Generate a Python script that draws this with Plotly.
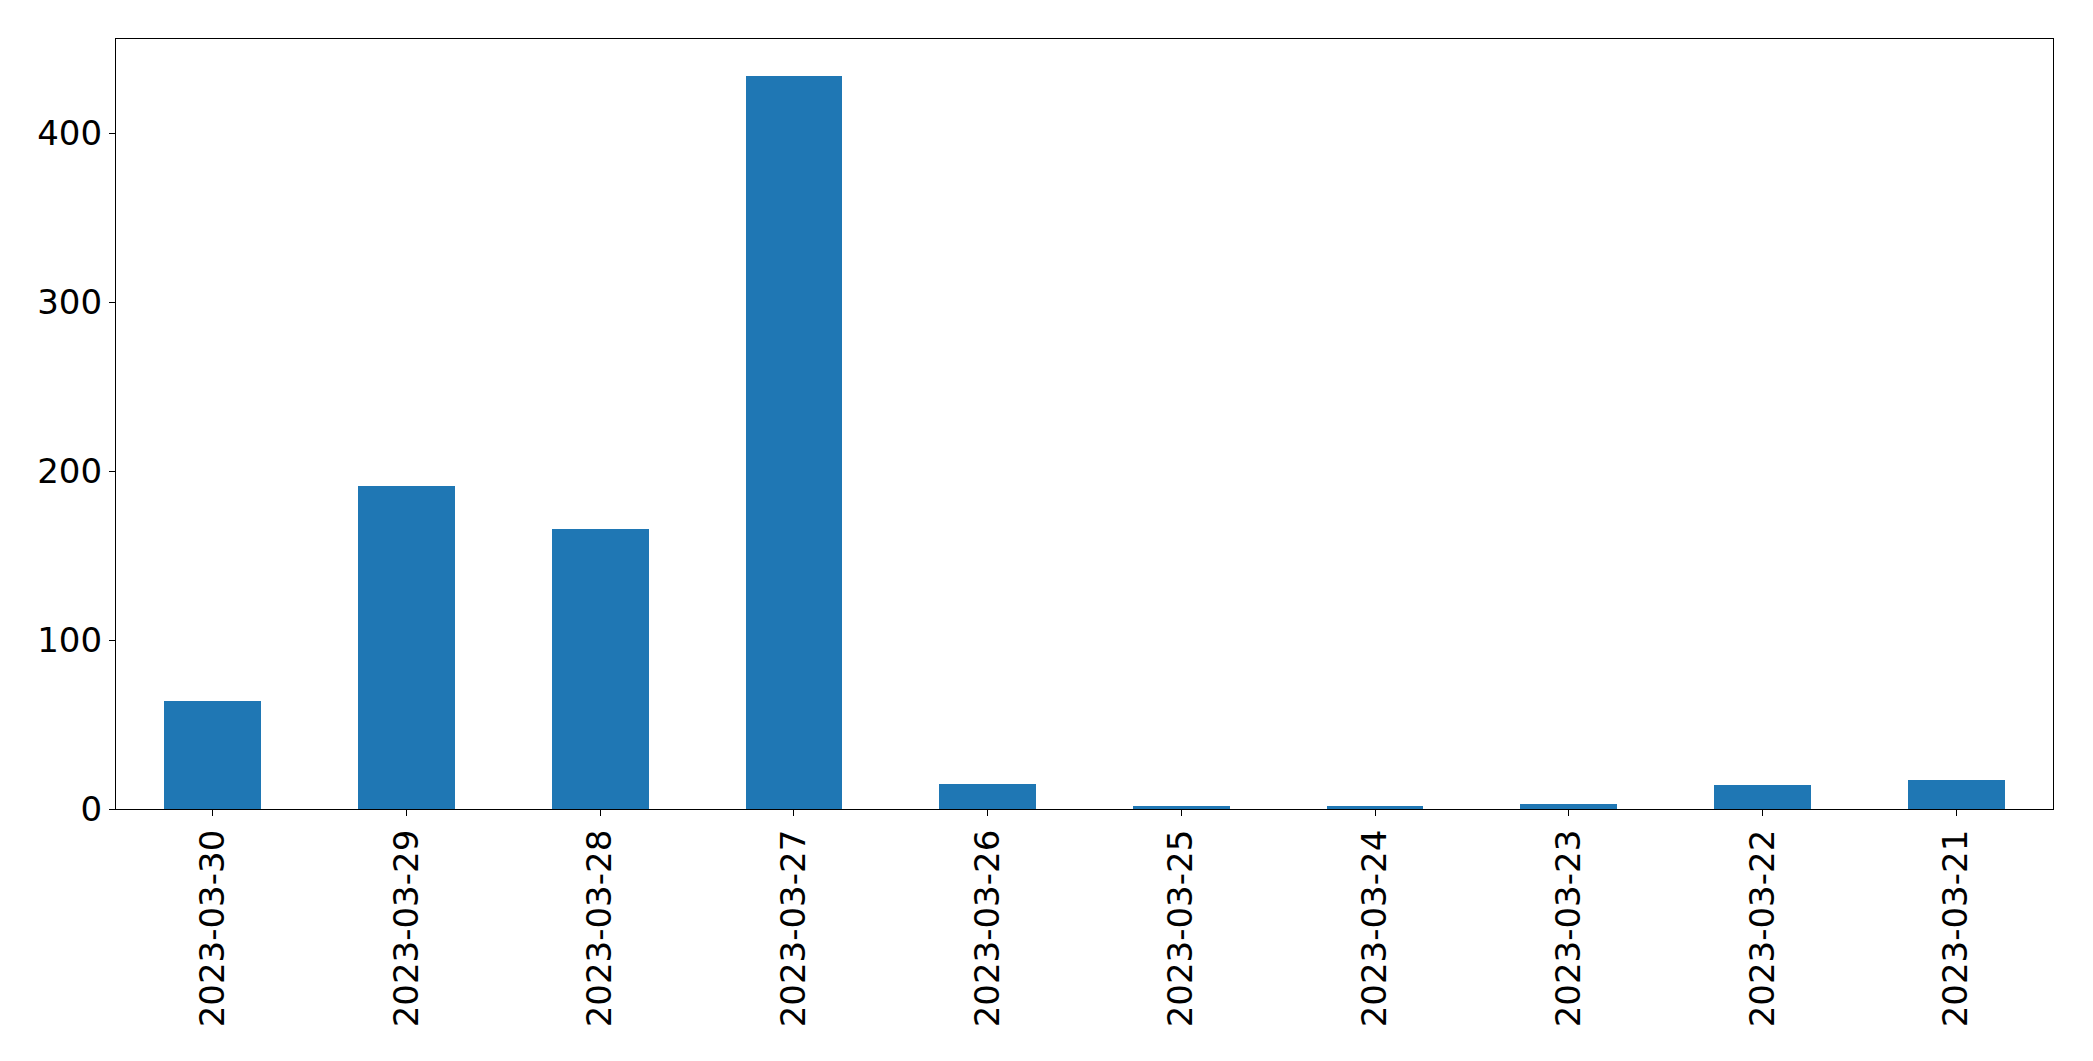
import plotly.graph_objects as go

dates = ["2023-03-30", "2023-03-29", "2023-03-28", "2023-03-27", "2023-03-26",
         "2023-03-25", "2023-03-24", "2023-03-23", "2023-03-22", "2023-03-21"]
counts = [64, 191, 166, 434, 15, 2, 2, 3, 14, 17]
y_ticks = [0, 100, 200, 300, 400]

fig = go.Figure(go.Bar(
    x=list(range(len(dates))), y=counts, width=0.5,
    marker=dict(color="#1f77b4", line=dict(width=0)),
))

# page body has an 8px default margin, compensated here
fig.update_layout(
    width=2077, height=1045,
    margin=dict(l=108, r=32, t=31, b=244),
    paper_bgcolor="white", plot_bgcolor="white",
    font=dict(family="DejaVu Sans", size=34, color="black"),
    showlegend=False, bargap=0,
)
fig.update_xaxes(
    range=[-0.5, len(dates) - 0.5],
    tickmode="array", tickvals=list(range(len(dates))), ticktext=dates,
    tickangle=-90, ticks="outside", ticklen=6, tickwidth=1.3, tickcolor="black",
    showline=True, linecolor="black", linewidth=1.3, mirror=True,
    showgrid=False, zeroline=False,
)
fig.update_yaxes(
    range=[0, 455.7],
    tickmode="array", tickvals=y_ticks, ticktext=[str(v) for v in y_ticks],
    ticks="outside", ticklen=6, tickwidth=1.3, tickcolor="black",
    showline=True, linecolor="black", linewidth=1.3, mirror=True,
    showgrid=False, zeroline=False,
)

fig.write_html("out.html")
